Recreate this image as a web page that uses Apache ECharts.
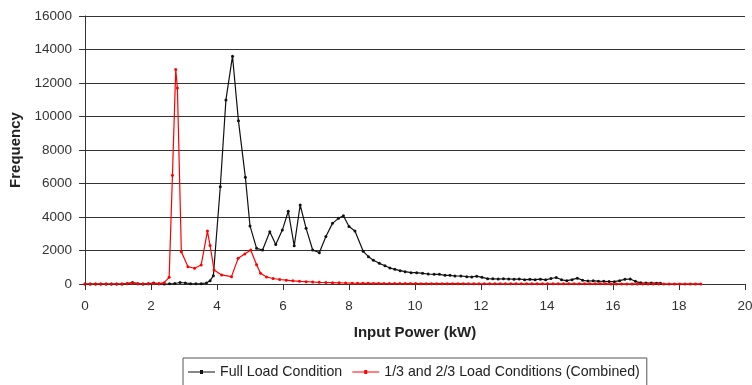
<!DOCTYPE html>
<html>
<head>
<meta charset="utf-8">
<script src="https://cdn.jsdelivr.net/npm/echarts@6/dist/echarts.min.js"></script>
<style>
html,body{margin:0;padding:0;background:#fff;}
#chart{width:752px;height:385px;}
</style>
</head>
<body>
<div id="chart"></div>
<script>
// ---- data ----
const seriesNames = ['Full Load Condition', '1/3 and 2/3 Load Conditions (Combined)'];
const xTicks = [0, 2, 4, 6, 8, 10, 12, 14, 16, 18, 20];
const yTicks = [0, 2000, 4000, 6000, 8000, 10000, 12000, 14000, 16000];

// Full load condition: input power (kW) and frequency
const fullX = [0, 0.16, 0.32, 0.48, 0.64, 0.8, 0.96, 1.12, 1.28, 1.44, 1.6, 1.76, 1.92, 2.08, 2.24, 2.4, 2.56, 2.72, 2.88, 3.04, 3.2, 3.36, 3.52, 3.68,
  3.79, 3.89, 4.1, 4.27, 4.47, 4.65, 4.86, 5.0, 5.2, 5.38, 5.6, 5.78, 5.98, 6.16, 6.34, 6.52, 6.7, 6.9, 7.1, 7.3, 7.5, 7.68, 7.83, 8.0, 8.18,
  8.43, 8.59, 8.74, 8.92, 9.09, 9.24, 9.39, 9.55, 9.7, 9.88, 10.05, 10.23, 10.4, 10.58, 10.74, 10.91, 11.06, 11.21, 11.39, 11.57, 11.72, 11.87,
  12.03, 12.2, 12.36, 12.52, 12.68, 12.84, 13.0, 13.16, 13.32, 13.48, 13.64, 13.8, 13.96, 14.12, 14.28, 14.44, 14.6, 14.76, 14.92, 15.08, 15.24,
  15.4, 15.56, 15.72, 15.88, 16.04, 16.2, 16.36, 16.52, 16.68, 16.84, 17.0, 17.16, 17.32, 17.44];
const fullY = [0, 0, 0, 0, 0, 0, 0, 0, 20, 90, 20, 0, 20, 60, 20, 0, 10, 30, 90, 60, 20, 10, 20, 60,
  200, 500, 5810, 10990, 13600, 9740, 6370, 3470, 2130, 2030, 3120, 2360, 3220, 4340, 2280, 4716, 3325, 2030, 1870, 2830, 3620, 3920, 4070, 3430, 3170,
  1950, 1630, 1415, 1234, 1092, 955, 875, 794, 734, 675, 675, 637, 597, 578, 578, 518, 518, 478, 478, 438, 418, 470,
  400, 320, 310, 300, 310, 300, 290, 300, 260, 280, 260, 290, 250, 330, 390, 250, 200, 260, 350, 220, 180,
  190, 170, 160, 150, 140, 200, 280, 300, 160, 70, 60, 60, 50, 50];

// 1/3 and 2/3 load conditions (combined)
const partX = [0, 0.16, 0.32, 0.48, 0.64, 0.8, 0.96, 1.12, 1.28, 1.44, 1.6, 1.76, 1.92, 2.08, 2.24, 2.4,
  2.55, 2.65, 2.75, 2.8, 2.92, 3.12, 3.32, 3.52, 3.71, 3.79, 3.91, 4.14, 4.44, 4.64, 4.84, 5.02, 5.2, 5.32, 5.5, 5.7, 5.9,
  6.1, 6.3, 6.5, 6.7, 6.9, 7.1, 7.3, 7.5, 7.7, 7.9, 8.1,
  8.26, 8.42, 8.58, 8.74, 8.9, 9.06, 9.22, 9.38, 9.54, 9.7, 9.86, 10.02, 10.18, 10.34, 10.5, 10.66, 10.82, 10.98, 11.14, 11.3,
  11.46, 11.62, 11.78, 11.94, 12.1, 12.26, 12.42, 12.58, 12.74, 12.9, 13.06, 13.22, 13.38, 13.54, 13.7, 13.86, 14.02, 14.18,
  14.34, 14.5, 14.66, 14.82, 14.98, 15.14, 15.3, 15.46, 15.62, 15.78, 15.94, 16.1, 16.26, 16.42, 16.58, 16.74, 16.9, 17.06,
  17.22, 17.38, 17.54, 17.7, 17.86, 18.02, 18.18, 18.34, 18.5, 18.66];
const partY = [0, 0, 0, 0, 0, 0, 0, 0, 30, 60, 20, 0, 10, 30, 20, 80,
  400, 6500, 12800, 11700, 1930, 1030, 940, 1130, 3160, 2300, 840, 540, 440, 1530, 1790, 2030, 1150, 640, 420, 330, 270,
  230, 190, 160, 140, 120, 100, 90, 80, 70, 60, 50,
  45, 40, 40, 35, 35, 30, 30, 30, 25, 25, 25, 25, 20, 20, 20, 20, 20, 20, 20, 20,
  20, 15, 15, 15, 15, 15, 15, 15, 15, 15, 15, 10, 10, 10, 10, 10, 10, 10,
  10, 10, 10, 10, 10, 10, 10, 10, 10, 10, 5, 5, 5, 5, 5, 5, 5, 5,
  5, 5, 5, 5, 5, 5, 5, 5, 5, 5];

// ---- chart ----
const pairs = (xs, ys) => xs.map((x, i) => [x, ys[i]]);
const font = 'Liberation Sans, Arial, sans-serif';
const legendIcon = 'path://M0,1.5H12V0H15V1.5H27V2.5H15V4H12V2.5H0Z';
const chart = echarts.init(document.getElementById('chart'), null, {renderer: 'canvas'});
chart.setOption({
  animation: false,
  backgroundColor: '#ffffff',
  grid: {left: 85, right: 7, top: 16, bottom: 101, containLabel: false, outerBoundsMode: 'none'},
  legend: {
    left: 183, top: 358,
    data: seriesNames.map(n => ({name: n, icon: legendIcon})),
    itemWidth: 27, itemHeight: 4, itemGap: 10,
    borderColor: '#555', borderWidth: 1, borderRadius: 0,
    padding: [7, 7, 9, 5],
    textStyle: {fontFamily: font, fontSize: 14.2, color: '#222'}
  },
  xAxis: {
    type: 'value', min: 0, max: 20, interval: 2,
    name: 'Input Power (kW)', nameLocation: 'middle', nameGap: 41,
    nameTextStyle: {fontFamily: font, fontSize: 15, fontWeight: 'bold', color: '#222'},
    axisLine: {lineStyle: {color: '#333', width: 1}},
    axisTick: {show: true, inside: false, length: 6, lineStyle: {color: '#333'}},
    axisLabel: {fontFamily: font, fontSize: 13.5, color: '#333', margin: 15,
      formatter: v => xTicks.indexOf(v) >= 0 ? String(v) : ''},
    splitLine: {show: false}
  },
  yAxis: {
    type: 'value', min: 0, max: 16000, interval: 2000,
    name: 'Frequency', nameLocation: 'middle', nameGap: 55, nameRotate: 90,
    nameTextStyle: {fontFamily: font, fontSize: 15, fontWeight: 'bold', color: '#222'},
    axisLine: {show: true, lineStyle: {color: '#333', width: 1}},
    axisTick: {show: true, inside: false, length: 6, lineStyle: {color: '#333'}},
    axisLabel: {fontFamily: font, fontSize: 13.5, color: '#333', margin: 13,
      formatter: v => yTicks.indexOf(v) >= 0 ? String(v) : ''},
    splitLine: {show: true, lineStyle: {color: '#333', width: 1}}
  },
  series: [
    {
      name: seriesNames[0], type: 'line', data: pairs(fullX, fullY),
      symbol: 'circle', symbolSize: 3, showSymbol: true,
      lineStyle: {color: '#111', width: 1.2},
      itemStyle: {color: '#111'}, z: 2
    },
    {
      name: seriesNames[1], type: 'line', data: pairs(partX, partY),
      symbol: 'circle', symbolSize: 3, showSymbol: true,
      lineStyle: {color: '#ff0000', width: 1.2},
      itemStyle: {color: '#ff0000'}, z: 3
    }
  ]
});
</script>
</body>
</html>
